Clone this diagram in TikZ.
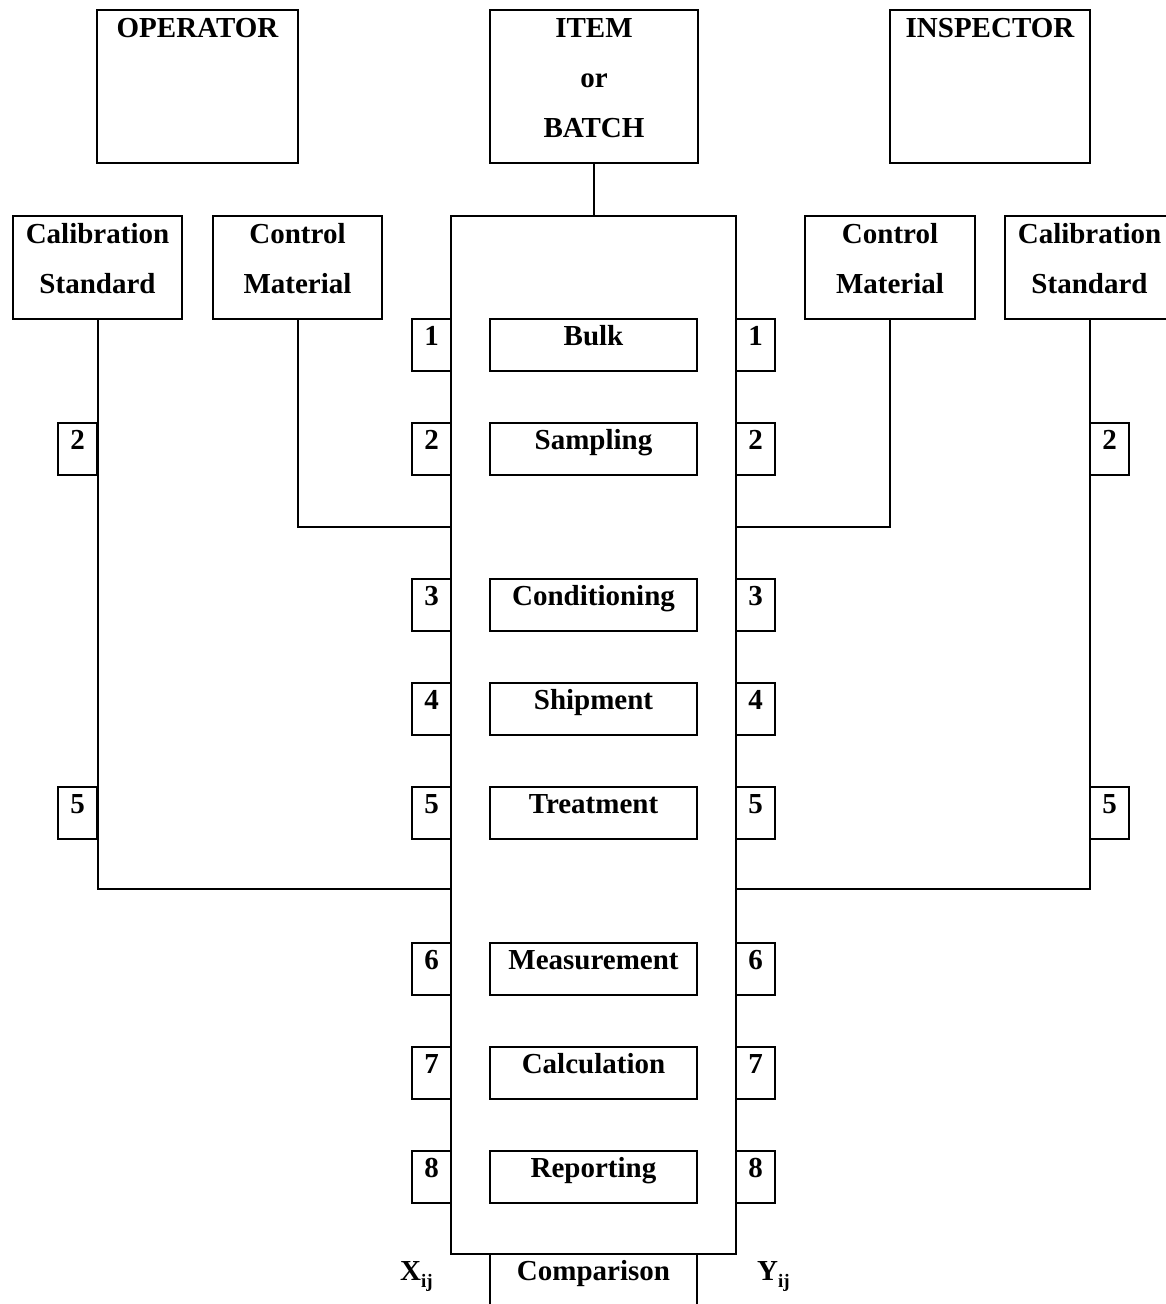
\documentclass[tikz,border=0pt]{standalone}
\usepackage{fontspec}
\setmainfont{Liberation Serif}
\usetikzlibrary{calc}
\tikzset{
  box/.style={draw, line width=2pt, inner sep=0pt, anchor=north west},
  txt/.style={font=\fontsize{29}{29}\selectfont\bfseries, inner sep=0pt, anchor=base},
  ln/.style={line width=2pt},
}
\begin{document}
\begin{tikzpicture}[x=1pt,y=-1pt]
\useasboundingbox (0,0) rectangle (1166,1304);
% top boxes
\node[box, minimum width=201pt, minimum height=153pt] (op) at (96,9) {};
\node[txt] (opt) at ($(op.north)+(0,28)$) {OPERATOR};
\node[box, minimum width=208pt, minimum height=153pt] (item) at (489,9) {};
\node[txt] (itemt1) at ($(item.north)+(0,28)$) {ITEM};
\node[txt] (itemt2) at ($(item.north)+(0,78)$) {or};
\node[txt] (itemt3) at ($(item.north)+(0,128)$) {BATCH};
\node[box, minimum width=200pt, minimum height=153pt] (insp) at (889,9) {};
\node[txt] (inspt) at ($(insp.north)+(0,28)$) {INSPECTOR};
% second row
\node[box, minimum width=169pt, minimum height=103pt] (csl) at (12,215) {};
\node[txt] (cslt1) at ($(csl.north)+(0,28)$) {Calibration};
\node[txt] (cslt2) at ($(csl.north)+(0,78)$) {Standard};
\node[box, minimum width=169pt, minimum height=103pt] (cml) at (212,215) {};
\node[txt] (cmlt1) at ($(cml.north)+(0,28)$) {Control};
\node[txt] (cmlt2) at ($(cml.north)+(0,78)$) {Material};
\node[box, minimum width=170pt, minimum height=103pt] (cmr) at (804,215) {};
\node[txt] (cmrt1) at ($(cmr.north)+(0,28)$) {Control};
\node[txt] (cmrt2) at ($(cmr.north)+(0,78)$) {Material};
\node[box, minimum width=169pt, minimum height=103pt] (csr) at (1004,215) {};
\node[txt] (csrt1) at ($(csr.north)+(0,28)$) {Calibration};
\node[txt] (csrt2) at ($(csr.north)+(0,78)$) {Standard};
% big box
\node[box, minimum width=285pt, minimum height=1038pt] (big) at (450,215) {};
\draw[ln] (item.south) -- (item.south |- big.north);
% steps
\foreach \i/\t/\lab in {1/318/Bulk, 2/422/Sampling, 3/578/Conditioning, 4/682/Shipment, 5/786/Treatment, 6/942/Measurement, 7/1046/Calculation, 8/1150/Reporting} {
  \node[box, minimum width=207pt, minimum height=52pt] (s\i) at (489,\t) {};
  \node[txt] (s\i-t) at ($(s\i.north)+(0,27)$) {\lab};
  \node[box, minimum width=39pt, minimum height=52pt] (nl\i) at (411,\t) {};
  \node[txt] (nl\i-t) at ($(nl\i.north)+(0,27)$) {\i};
  \node[box, minimum width=39pt, minimum height=52pt] (nr\i) at (735,\t) {};
  \node[txt] (nr\i-t) at ($(nr\i.north)+(0,27)$) {\i};
}
% connectors
\coordinate (cl) at (450,527);
\coordinate (cr) at (735,527);
\coordinate (kl) at (450,889);
\coordinate (kr) at (735,889);
\draw[ln] (cml.south) |- (cl);
\draw[ln] (cmr.south) |- (cr);
\draw[ln] (csl.south) |- (kl);
\draw[ln] (csr.south) |- (kr);
% side number boxes
\foreach \i/\t in {2/422, 5/786} {
  \node[box, minimum width=39pt, minimum height=52pt] (fl\i) at (57,\t) {};
  \node[txt] (fl\i-t) at ($(fl\i.north)+(0,27)$) {\i};
  \node[box, minimum width=39pt, minimum height=52pt] (fr\i) at (1089,\t) {};
  \node[txt] (fr\i-t) at ($(fr\i.north)+(0,27)$) {\i};
}
% comparison
\node[box, minimum width=207pt, minimum height=80pt] (cmp) at (489,1253) {};
\node[txt] (cmpt) at ($(cmp.north)+(0,27)$) {Comparison};
\node[txt, anchor=base west] (xij) at (400,1280) {X\raisebox{-7pt}{\fontsize{19}{19}\selectfont ij}};
\node[txt, anchor=base west] (yij) at (757,1280) {Y\raisebox{-7pt}{\fontsize{19}{19}\selectfont ij}};
\end{tikzpicture}
\end{document}
